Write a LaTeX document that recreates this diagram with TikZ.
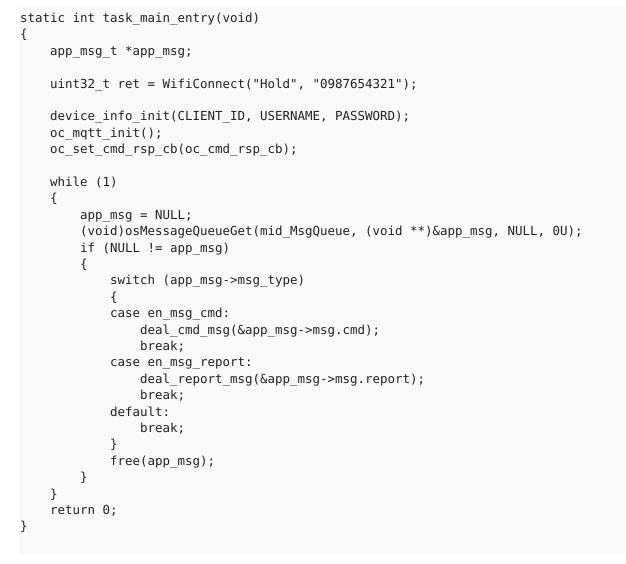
\documentclass[tikz,border=0pt]{standalone}
\usepackage{fontspec}
\setmonofont{DejaVu Sans Mono}
\definecolor{codetxt}{HTML}{222222}
\definecolor{codebg}{HTML}{F9F9F9}
\tikzset{
  codeline/.style={anchor=base west, inner sep=0pt, outer sep=0pt, text=codetxt,
    font=\ttfamily\fontsize{12.46}{16}\selectfont},
}
\newcommand{\cl}[3]{\node[codeline] (l#1) at ({(20+7.5*#2)*1pt},{-(22.5+16.4*(#1-1))*1pt}) {#3};}
\begin{document}
\begin{tikzpicture}[x=1pt,y=1pt]
\useasboundingbox (0,0) rectangle (626,-563);
\fill[codebg] (19,-7) rectangle (626,-555);
\cl{1}{0}{static int task\_main\_entry(void)}
\cl{2}{0}{\{}
\cl{3}{4}{app\_msg\_t *app\_msg;}
\cl{5}{4}{uint32\_t ret = WifiConnect("Hold", "0987654321");}
\cl{7}{4}{device\_info\_init(CLIENT\_ID, USERNAME, PASSWORD);}
\cl{8}{4}{oc\_mqtt\_init();}
\cl{9}{4}{oc\_set\_cmd\_rsp\_cb(oc\_cmd\_rsp\_cb);}
\cl{11}{4}{while (1)}
\cl{12}{4}{\{}
\cl{13}{8}{app\_msg = NULL;}
\cl{14}{8}{(void)osMessageQueueGet(mid\_MsgQueue, (void **)\&app\_msg, NULL, 0U);}
\cl{15}{8}{if (NULL != app\_msg)}
\cl{16}{8}{\{}
\cl{17}{12}{switch (app\_msg->msg\_type)}
\cl{18}{12}{\{}
\cl{19}{12}{case en\_msg\_cmd:}
\cl{20}{16}{deal\_cmd\_msg(\&app\_msg->msg.cmd);}
\cl{21}{16}{break;}
\cl{22}{12}{case en\_msg\_report:}
\cl{23}{16}{deal\_report\_msg(\&app\_msg->msg.report);}
\cl{24}{16}{break;}
\cl{25}{12}{default:}
\cl{26}{16}{break;}
\cl{27}{12}{\}}
\cl{28}{12}{free(app\_msg);}
\cl{29}{8}{\}}
\cl{30}{4}{\}}
\cl{31}{4}{return 0;}
\cl{32}{0}{\}}
\end{tikzpicture}
\end{document}
